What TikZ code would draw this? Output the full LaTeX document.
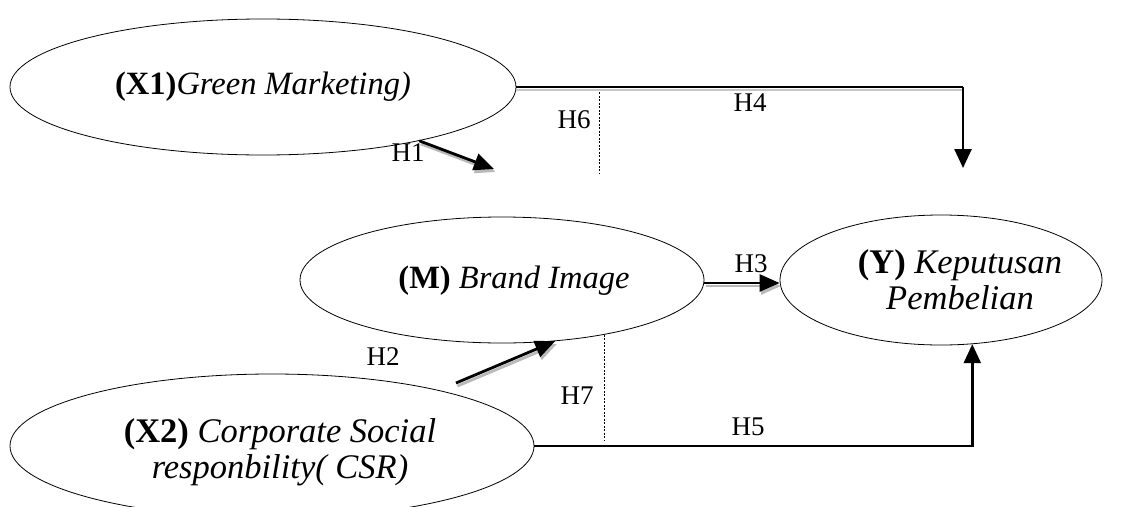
\documentclass[tikz,border=0pt]{standalone}
\usepackage{fontspec}
\setmainfont{Liberation Serif}
\usetikzlibrary{shapes.geometric,arrows.meta}
\begin{document}
\begin{tikzpicture}[x=1pt,y=-1pt,
  construct/.style={draw, ellipse, line width=0.8pt, inner sep=0pt},
  ctext/.style={align=center, inner sep=0pt, font=\fontsize{32.5}{36}\selectfont},
  ctextbig/.style={align=center, inner sep=0pt, font=\fontsize{34.5}{36}\selectfont},
  hlabel/.style={inner sep=0pt, font=\fontsize{27}{30}\selectfont},
  effect/.style={line width=2.8pt, -{Triangle[length=20pt,width=17pt]}},
  effectshadow/.style={effect, draw=gray!55, fill=gray!55, transform canvas={shift={(1.5pt,-3pt)}}},
  link/.style={line width=2.4pt, -{Triangle[length=19pt,width=17pt]}},
  guide/.style={line width=0.7pt, dash pattern=on 2pt off 1.5pt}]
\useasboundingbox (0,0) rectangle (1131,506);

% latent constructs
\node[construct, minimum width=506pt, minimum height=136pt] (X1) at (263,87) {};
\node[ctext] (X1t) at (X1.center) {\textbf{(X1)}\textit{Green Marketing)}};
\node[construct, minimum width=404pt, minimum height=126pt] (M) at (502,280) {};
\node[ctext] (Mt) at (514,281) {\textbf{(M)} \textit{Brand Image}};
\node[construct, minimum width=322pt, minimum height=130pt] (Y) at (941,280) {};
\node[ctextbig] (Yt) at (960,280) {\textbf{(Y)} \textit{Keputusan}\\\textit{Pembelian}};
\node[construct, minimum width=524pt, minimum height=144pt] (X2) at (272,446) {};
\node[ctextbig] (X2t) at (280,452) {\textbf{(X2)} \textit{Corporate Social}\\\textit{responbility( CSR)}};

% free ends of paths
\coordinate (h1end) at (494,169);
\coordinate (h2start) at (456,383);
\coordinate (h4tip) at (963,168);
\coordinate (h6top) at (599,92);
\coordinate (h6bot) at (599,173);
\coordinate (h7bot) at (604,440);

% H1: X1 -> M
\draw[effectshadow] (X1.-19) -- (h1end);
\draw[effect] (X1.-19) -- (h1end);
% H2: X2 -> M
\draw[effectshadow] (h2start) -- (M.-49);
\draw[effect] (h2start) -- (M.-49);
% H3: M -> Y
\draw[effectshadow] ([yshift=-3pt]M.east) -- ([yshift=-3pt]Y.west);
\draw[effect] ([yshift=-3pt]M.east) -- ([yshift=-3pt]Y.west);
% H4: X1 -> Y
\draw[gray!45, line width=1.6pt, transform canvas={shift={(0pt,-3pt)}}] (X1.east) -- (h4tip |- X1.east);
\draw[line width=1.2pt] (X1.east) -- (h4tip |- X1.east);
\draw[link, line width=2.6pt] (h4tip |- X1.east) -- (h4tip);
% H5: X2 -> Y
\draw[link] (X2.east) -| (Y.-64);
% H6, H7: mediation markers
\draw[guide] (h6top) -- (h6bot);
\draw[guide] (M.-28) -- (M.-28 |- h7bot);

% hypothesis labels
\node[hlabel] (H1) at (408,153) {H1};
\node[hlabel] (H2) at (383,357) {H2};
\node[hlabel] (H3) at (751,264) {H3};
\node[hlabel] (H4) at (750,103) {H4};
\node[hlabel] (H5) at (748,427) {H5};
\node[hlabel] (H6) at (574,120) {H6};
\node[hlabel] (H7) at (577,396) {H7};
\end{tikzpicture}
\end{document}
